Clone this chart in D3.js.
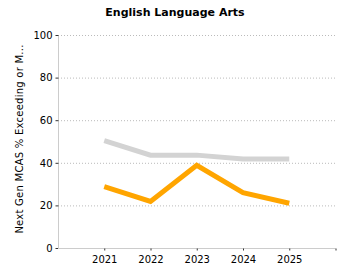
<!DOCTYPE html>
<html>
<head>
<meta charset="utf-8">
<script src="https://cdn.jsdelivr.net/npm/d3@7"></script>
<style>
  html, body { margin: 0; padding: 0; background: #fff; }
  svg { display: block; font-family: "DejaVu Sans", Verdana, sans-serif; }
</style>
</head>
<body>
<svg id="chart" width="350" height="280"></svg>
<script>
// ---- data ----
const years = [2021, 2022, 2023, 2024, 2025];
const stateSeries = [50.4, 43.6, 43.6, 41.8, 41.8];   // grey line
const schoolSeries = [28.8, 21.9, 38.8, 26.0, 21.0];  // orange line
const yTicks = [0, 20, 40, 60, 80, 100];
const title = 'English Language Arts';
const yLabel = 'Next Gen MCAS % Exceeding or M...';

const W = 350, H = 280;
const M = { left: 58, right: 14.5, top: 35, bottom: 32 };

const svg = d3.select('#chart');

const x = d3.scaleLinear().domain([2020, 2026]).range([M.left, W - M.right]);
const y = d3.scaleLinear().domain([0, 100]).range([H - M.bottom, M.top]);

// title
svg.append('text')
  .attr('x', 175).attr('y', 16)
  .attr('text-anchor', 'middle')
  .attr('font-size', '11px').attr('font-weight', 'bold')
  .attr('fill', '#000')
  .text(title);

// grid lines (dotted)
svg.append('g').selectAll('line')
  .data(yTicks.filter(d => d > 0)).join('line')
  .attr('x1', M.left).attr('x2', W - M.right)
  .attr('y1', d => y(d) + 0.5).attr('y2', d => y(d) + 0.5)
  .attr('stroke', '#bbb').attr('stroke-width', 1)
  .attr('stroke-dasharray', '1,2');

// y axis
const yAxis = svg.append('g')
  .attr('transform', `translate(${M.left + 0.5},0)`)
  .call(d3.axisLeft(y).tickValues(yTicks).tickSize(3).tickPadding(3));
yAxis.select('.domain').attr('stroke', '#ccc').attr('d', `M0,${y(100)}V${y(0)}`);
yAxis.selectAll('.tick line').attr('stroke', '#333');
yAxis.selectAll('.tick text').attr('font-size', '10px').attr('fill', '#000')
  .attr('font-family', '"DejaVu Sans", Verdana, sans-serif');

// x axis
const xAxis = svg.append('g')
  .attr('transform', `translate(0,${y(0) + 0.5})`)
  .call(d3.axisBottom(x).tickValues([...years, 2026]).tickFormat(d => d === 2026 ? '' : d3.format('d')(d))
    .tickSize(2).tickPadding(5));
xAxis.select('.domain').attr('stroke', '#ccc').attr('d', `M${x(2020)},0H${x(2026)}`);
xAxis.selectAll('.tick line').attr('stroke', '#333');
xAxis.selectAll('.tick text').attr('font-size', '10px').attr('fill', '#000')
  .attr('font-family', '"DejaVu Sans", Verdana, sans-serif');

// y axis label
svg.append('text')
  .attr('transform', `translate(23,139) rotate(-90)`)
  .attr('text-anchor', 'middle')
  .attr('font-size', '10px').attr('fill', '#000')
  .attr('letter-spacing', '0.25px')
  .text(yLabel);

// lines
const line = d3.line().x((d, i) => x(years[i])).y(d => y(d));
[[stateSeries, '#d3d3d3'], [schoolSeries, '#ffa500']].forEach(([s, c]) => {
  svg.append('path')
    .attr('d', line(s))
    .attr('fill', 'none')
    .attr('stroke', c)
    .attr('stroke-width', 5)
    .attr('stroke-linejoin', 'miter')
    .attr('stroke-linecap', 'butt');
});
</script>
</body>
</html>
